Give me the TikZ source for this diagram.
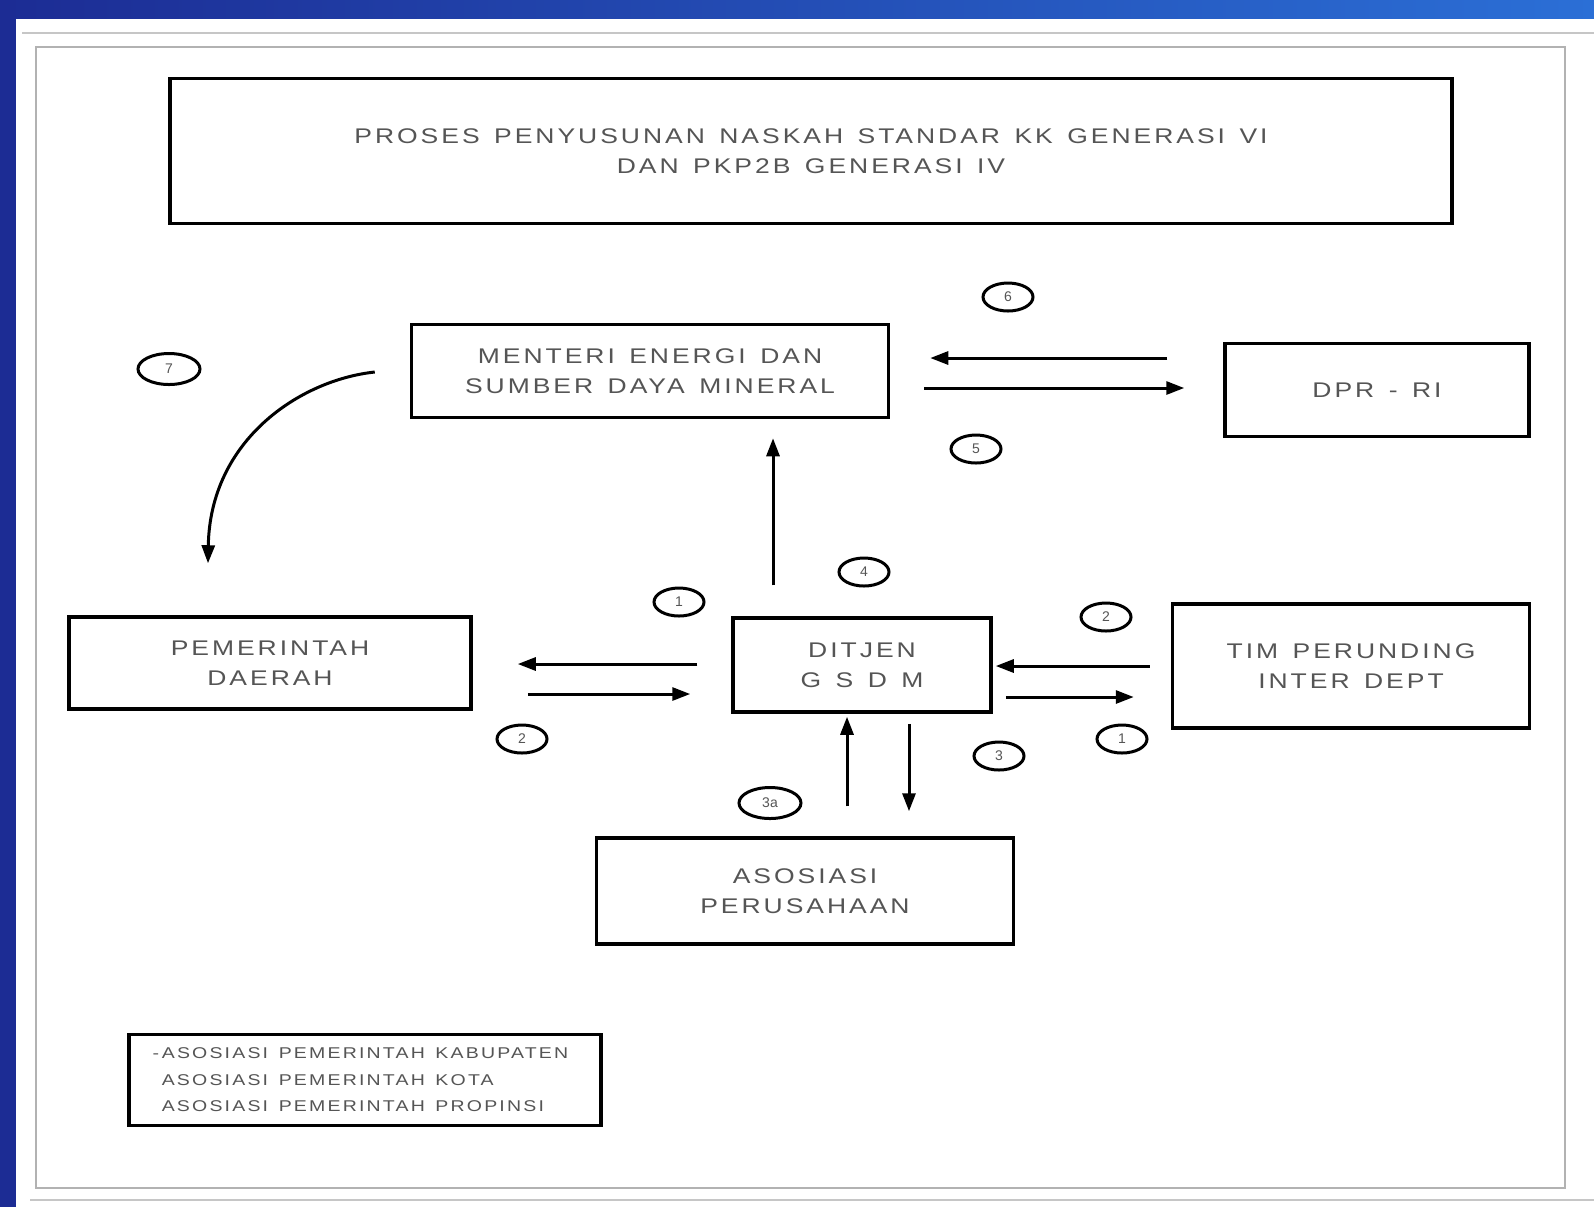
\documentclass[tikz,border=0pt]{standalone}
\usepackage{fontspec}
\setmainfont{Liberation Sans}
\newfontfamily\boxfont[FakeStretch=1.25,LetterSpace=14,WordSpace=1.4]{Liberation Sans}
\newfontfamily\legfont[FakeStretch=1.25,LetterSpace=14,WordSpace=1.4]{Liberation Sans}
\usetikzlibrary{arrows.meta,calc,shapes.geometric}
\definecolor{txt}{HTML}{555555}
\definecolor{bluedark}{HTML}{1C2C94}
\definecolor{bluelight}{HTML}{2B6FD6}
\begin{document}
\begin{tikzpicture}[x=0.5pt,y=-0.5pt,
  box/.style={draw=black, line width=1.75pt, fill=white, inner sep=0pt, align=center, text=txt,
    font=\boxfont\fontsize{10.6}{15}\selectfont},
  legbox/.style={draw=black, line width=1.75pt, fill=white, inner sep=0pt, align=left, text=txt,
    font=\legfont\fontsize{7.8}{13.25}\selectfont},
  tag/.style={ellipse, draw=black, line width=1.5pt, minimum width=25pt, minimum height=14pt,
    inner sep=0pt, text=txt, font=\fontsize{7}{8}\selectfont},
  bigtag/.style={tag, minimum width=31pt, minimum height=15.5pt},
  arr/.style={draw=black, line width=1.5pt, -{Triangle[length=9pt,width=6.5pt]}}]
\useasboundingbox (0,0) rectangle (1594,1207);
\fill[white] (0,0) rectangle (1594,1207);
\shade[left color=bluedark, right color=bluelight] (0,0) rectangle (1594,18);
\fill[bluedark] (0,0) rectangle (16,1207);
\draw[gray!45, line width=0.8pt] (22,33) -- (1594,33);
\draw[gray!60, line width=1pt] (36,47) rectangle (1565,1188);
\draw[gray!45, line width=1.2pt] (30,1200) -- (1594,1200);

% boxes
\node[box, minimum width=641pt, minimum height=72.5pt] (title) at (811,151)
  {PROSES PENYUSUNAN NASKAH STANDAR KK GENERASI VI\\DAN PKP2B GENERASI IV};
\node[box, minimum width=238.5pt, minimum height=46.5pt] (men) at (650,371)
  {MENTERI ENERGI DAN\\SUMBER DAYA MINERAL};
\node[box, minimum width=152pt, minimum height=46.5pt] (dpr) at (1377,390) {DPR - RI};
\node[box, minimum width=201pt, minimum height=46pt] (pem) at (270,663) {PEMERINTAH\\DAERAH};
\node[box, minimum width=129pt, minimum height=47pt] (dit) at (862,665) {DITJEN\\G S D M};
\node[box, minimum width=178.5pt, minimum height=62pt] (tim) at (1351,666) {TIM PERUNDING\\INTER DEPT};
\node[box, minimum width=208.5pt, minimum height=53pt] (aso) at (805,891) {ASOSIASI\\PERUSAHAAN};
\node[legbox, minimum width=236pt, minimum height=45.5pt] (leg) at (365,1080)
  {\llap{-\,}ASOSIASI PEMERINTAH KABUPATEN\\ASOSIASI PEMERINTAH KOTA\\ASOSIASI PEMERINTAH PROPINSI};

% number tags
\node[bigtag] (t7) at (169,369) {7};
\node[tag] (t6) at (1008,297) {6};
\node[tag] (t5) at (976,449) {5};
\node[tag] (t4) at (864,572) {4};
\node[tag] (t1a) at (679,602) {1};
\node[tag] (t2a) at (522,739) {2};
\node[tag] (t2b) at (1106,617) {2};
\node[tag] (t1b) at (1122,739) {1};
\node[tag] (t3) at (999,756) {3};
\node[bigtag] (t3a) at (770,803) {3a};

% connectors
\draw[arr] ($(dpr.west)+(-56,-32)$) -- ($(men.east)+(40,-13)$);
\draw[arr] ($(men.east)+(34,17)$) -- ($(dpr.west)+(-39,-2)$);
\draw[arr] ($(dit.north)+(-89,-31)$) -- ($(men.south)+(123,19)$);
\draw[arr] ($(men.west)+(-35,1)$) .. controls (300,380) and (210,440) .. ($(pem.north)+(-62,-52)$);
\draw[arr] ($(dit.west)+(-34,-1)$) -- ($(pem.east)+(45,1)$);
\draw[arr] ($(pem.east)+(55,31)$) -- ($(dit.west)+(-41,29)$);
\draw[arr] ($(tim.west)+(-21,0)$) -- ($(dit.east)+(3,1)$);
\draw[arr] ($(dit.east)+(13,32)$) -- ($(tim.west)+(-37,31)$);
\draw[arr] ($(aso.north)+(42,-30)$) -- ($(dit.south)+(-15,3)$);
\draw[arr] ($(dit.south)+(47,10)$) -- ($(aso.north)+(104,-25)$);
\end{tikzpicture}
\end{document}
